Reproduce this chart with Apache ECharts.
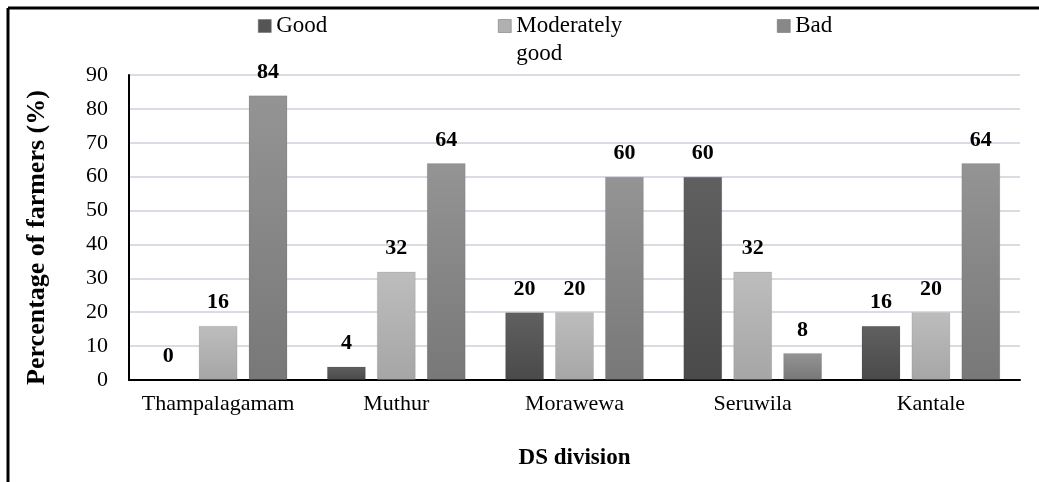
<!DOCTYPE html>
<html>
<head>
<meta charset="utf-8">
<script src="https://cdn.jsdelivr.net/npm/echarts@6/dist/echarts.min.js"></script>
<style>html,body{margin:0;padding:0;background:#fff}#c{width:1039px;height:482px}</style>
</head>
<body>
<div id="c"></div>
<script>
const categories = ['Thampalagamam', 'Muthur', 'Morawewa', 'Seruwila', 'Kantale'];
const seriesNames = ['Good', 'Moderately good', 'Bad'];
const legendLabels = ['Good', '\u00a0\nModerately\ngood', 'Bad'];
const good = [0, 4, 20, 60, 16];
const moderatelyGood = [16, 32, 20, 32, 20];
const bad = [84, 64, 60, 8, 64];
const yTicks = [0, 10, 20, 30, 40, 50, 60, 70, 80, 90];

const FONT = '"Liberation Serif", "Times New Roman", serif';
function grad(top, bottom) {
  return new echarts.graphic.LinearGradient(0, 0, 0, 1, [
    { offset: 0, color: top }, { offset: 1, color: bottom }
  ]);
}
const colors = [grad('#606060', '#4a4a4a'), grad('#bdbdbd', '#a6a6a6'), grad('#949494', '#787878')];
const legendColors = ['#555555', '#b0b0b0', '#888888'];
const dataSets = [good, moderatelyGood, bad];

const legendLefts = [258, 498, 777];
const legendTops = [12, -16, 12];

const chart = echarts.init(document.getElementById('c'), null, { renderer: 'canvas' });
chart.setOption({
  animation: false,
  backgroundColor: '#fff',
  textStyle: { fontFamily: FONT },
  legend: seriesNames.map((n, i) => ({
    top: legendTops[i],
    left: legendLefts[i],
    itemWidth: 13,
    itemHeight: 13,
    itemGap: 0,
    padding: 0,
    icon: 'rect',
    data: [{ name: n, itemStyle: { color: legendColors[i], borderColor: '#666', borderWidth: 0.5 } }],
    formatter: () => legendLabels[i],
    textStyle: { fontFamily: FONT, fontSize: 23, color: '#000', lineHeight: 28 }
  })),
  grid: { left: 129, right: 19, top: 75, bottom: 102 },
  xAxis: {
    type: 'category',
    data: categories,
    axisLine: { lineStyle: { color: '#000', width: 2 } },
    axisTick: { show: false },
    axisLabel: { interval: 0, fontFamily: FONT, fontSize: 22, color: '#000', margin: 13 },
    name: 'DS division',
    nameLocation: 'middle',
    nameGap: 67,
    nameTextStyle: { fontFamily: FONT, fontSize: 23, fontWeight: 'bold', color: '#000' }
  },
  yAxis: {
    type: 'value',
    min: 0,
    max: 90,
    interval: 10,
    axisLine: { show: true, lineStyle: { color: '#000', width: 2 } },
    axisTick: { show: false },
    axisLabel: { fontFamily: FONT, fontSize: 22, color: '#000', margin: 21, formatter: v => yTicks.includes(v) ? String(v) : '' },
    splitLine: { lineStyle: { color: '#d9dde3', width: 2 } },
    name: 'Percentage of farmers (%)',
    nameLocation: 'middle',
    nameGap: 79,
    nameRotate: 90,
    nameTextStyle: { fontFamily: FONT, fontSize: 26, fontWeight: 'bold', color: '#000', padding: [0, 20, 0, 0] }
  },
  series: dataSets.map((d, i) => ({
    name: seriesNames[i],
    type: 'bar',
    data: d,
    barWidth: 39,
    barGap: '28%',
    itemStyle: { color: colors[i], borderColor: 'rgba(0,0,0,0.08)', borderWidth: 1 },
    label: { show: true, position: 'top', distance: 12, fontFamily: FONT, fontSize: 22, fontWeight: 'bold', color: '#000' }
  })),
  graphic: [
    { type: 'line', shape: { x1: 8, y1: 8, x2: 1039, y2: 8 }, style: { stroke: '#000', lineWidth: 3 } },
    { type: 'line', shape: { x1: 8, y1: 8, x2: 8, y2: 482 }, style: { stroke: '#000', lineWidth: 3 } }
  ]
});
</script>
</body>
</html>
